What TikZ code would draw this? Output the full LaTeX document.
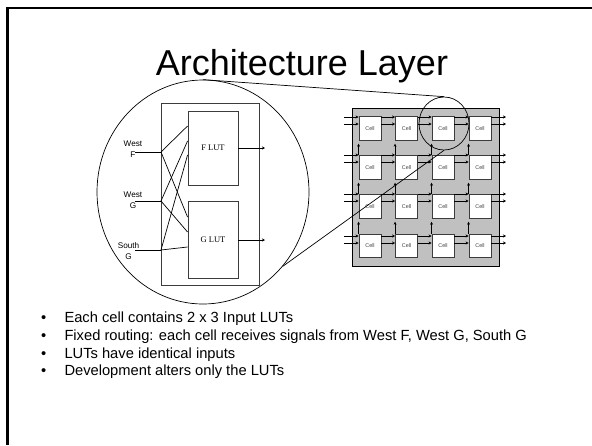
\documentclass[tikz,border=0pt]{standalone}
\usepackage{fontspec}
\setmainfont{Liberation Sans}
\newfontfamily\lutfont{Liberation Serif}
\usetikzlibrary{positioning,arrows.meta,shapes.geometric}
\definecolor{GridGray}{RGB}{192,192,192}
\definecolor{CellEdge}{RGB}{60,60,60}
\tikzset{
  wire/.style={line width=0.7pt, black},
  wirearrow/.style={wire, -{Stealth[length=3pt, width=3pt]}},
  cellbox/.style={draw=CellEdge, line width=0.9pt, fill=white, minimum width=22pt, minimum height=23.5pt, inner sep=0pt, font=\fontsize{5.4}{6}\selectfont, text=black!75},
  lutbox/.style={draw=CellEdge, line width=0.9pt, minimum width=50pt, inner sep=0pt, font=\fontsize{8.5}{9}\lutfont},
  pinlabel/.style={font=\fontsize{8.2}{11}\selectfont, align=center, inner sep=0pt},
  lens/.style={draw, ellipse, line width=0.7pt, inner sep=0pt},
  bulletline/.style={anchor=base west, inner sep=0pt, font=\fontsize{14.7}{17}\selectfont}
}
\begin{document}
\begin{tikzpicture}[x=1pt, y=-1pt, >=Stealth]
  \useasboundingbox (0,0) rectangle (592,445);
  \fill[white] (0,0) rectangle (592,445);
  \draw[line width=2.5pt] (592,8) -- (7.5,8) -- (7.5,445);
  \node[font=\fontsize{36}{40}\selectfont, inner sep=0pt, anchor=base] (title) at (302,75) {Architecture Layer};

  % cell array
  \node[draw, line width=0.8pt, fill=GridGray, minimum width=147pt, minimum height=158pt, inner sep=0pt] (array) at (425.5,187) {};
  \foreach \r/\cy in {1/128.5, 2/167.5, 3/206.5, 4/246}
    \foreach \c/\cx in {1/370, 2/406.5, 3/443, 4/480}
      \node[cellbox] (cell\r\c) at (\cx,\cy) {Cell};
  \foreach \r/\ya/\yb in {1/117/124, 2/155/162, 3/194/201, 4/236/243} {
    \foreach \y in {\ya,\yb} {
      \draw[wirearrow] (344,\y) -- (cell\r1.west |- 0,\y);
      \draw[wirearrow] (cell\r4.east |- 0,\y) -- (506,\y);
      \foreach \c in {1,2,3} {
        \pgfmathtruncatemacro{\nxt}{\c+1}
        \draw[wirearrow] (cell\r\c.east |- 0,\y) -- (cell\r\nxt.west |- 0,\y);
      }
    }
  }
  \foreach \c in {1,2,3,4}
    \foreach \r/\up in {2/1, 3/2, 4/3}
      \draw[wirearrow] (cell\r\c.north west) -- ([yshift=-3pt]cell\up\c.south west);

  % zoomed cell
  \node[draw, line width=0.9pt, draw=CellEdge, minimum width=98pt, minimum height=182pt, inner sep=0pt] (cellzoom) at (210,194) {};
  \node[lutbox, minimum height=74pt] (flut) at (213,148) {F LUT};
  \node[lutbox, minimum height=77pt] (glut) at (213,239.5) {G LUT};
  \coordinate (westf) at (135,152);
  \coordinate (westg) at (135,201);
  \coordinate (southg) at (135,250);
  \coordinate (forkf) at (161,152);
  \coordinate (forkg) at (161,201);
  \coordinate (forks) at (161,250);
  \foreach \a/\b in {westf/forkf, westg/forkg, southg/forks}
    \draw[wire] (\a) -- (\b);
  \foreach \a/\y in {forkf/126, forkf/217, forkg/141, forkg/232, forks/155, forks/247}
    \draw[wire] (\a) -- (flut.west |- 0,\y);
  \draw[wirearrow] (flut.east) -- (265,148);
  \draw[wirearrow] (glut.east |- 0,240) -- (265,240);
  \node[pinlabel] (lblwf) at (133,149.5) {West\\F};
  \node[pinlabel] (lblwg) at (133,200.5) {West\\G};
  \node[pinlabel] (lblsg) at (128.5,251.5) {South\\G};

  % zoom lenses
  \node[lens, minimum width=212pt, minimum height=224pt] (bigzoom) at (203,192) {};
  \node[lens, minimum width=50pt, minimum height=53pt] (smallzoom) at (444,123.5) {};
  \draw[wire] (bigzoom.north) -- (smallzoom.north);
  \draw[wire] (bigzoom.-43) -- (smallzoom.south);

  % bullet text
  \foreach \y/\t [count=\i] in {322.7/Each cell contains 2 x 3 Input LUTs,
      340.3/{Fixed routing: each cell receives signals from West F, West G, South G},
      358/LUTs have identical inputs,
      375.5/Development alters only the LUTs} {
    \node[bulletline] (dot\i) at (41,\y) {•};
    \node[bulletline] (item\i) at (64.3,\y) {\t};
  }
\end{tikzpicture}
\end{document}
